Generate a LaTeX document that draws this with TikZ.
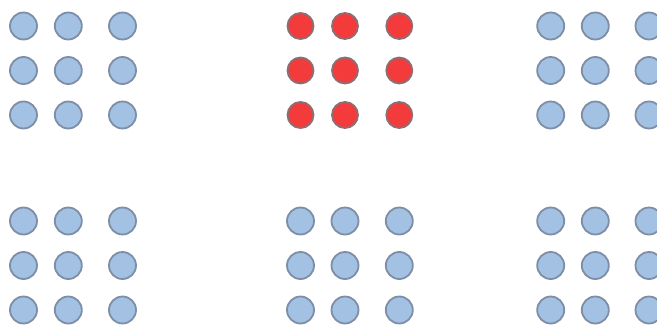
\documentclass[tikz,border=0pt]{standalone}
\definecolor{dotblue}{HTML}{A3C1E3}
\definecolor{dotblueline}{HTML}{7D8EA6}
\definecolor{dotred}{HTML}{F43B3B}
\definecolor{dotredline}{HTML}{8C6F74}
\tikzset{
  bdot/.style={circle, minimum size=27pt, inner sep=0pt, fill=dotblue, draw=dotblueline, line width=1.8pt},
  rdot/.style={circle, minimum size=26pt, inner sep=0pt, fill=dotred, draw=dotredline, line width=1.8pt}
}
\begin{document}
\begin{tikzpicture}[x=1pt,y=-1pt]
\useasboundingbox (0,0) rectangle (657,327);
\clip (0,0) rectangle (657,327);
% groups: (group name, x offsets)
\foreach \g/\xa/\xb/\xc/\ya/\yb/\yc/\st in {
  tl/23.5/68.3/122.5/26/70.5/115/bdot,
  tm/300.5/345/399.3/26/70.5/115/rdot,
  tr/550.7/595.3/649/26/70.5/115/bdot,
  bl/23.5/68.3/122.5/221/265.5/310/bdot,
  bm/300.5/345/399.3/221/265.5/310/bdot,
  br/550.7/595.3/649/221/265.5/310/bdot}{
  \foreach \c/\x in {1/\xa,2/\xb,3/\xc}{
    \foreach \r/\y in {1/\ya,2/\yb,3/\yc}{
      \node[\st] (\g-\r-\c) at (\x,\y) {};
    }
  }
}
\end{tikzpicture}
\end{document}
